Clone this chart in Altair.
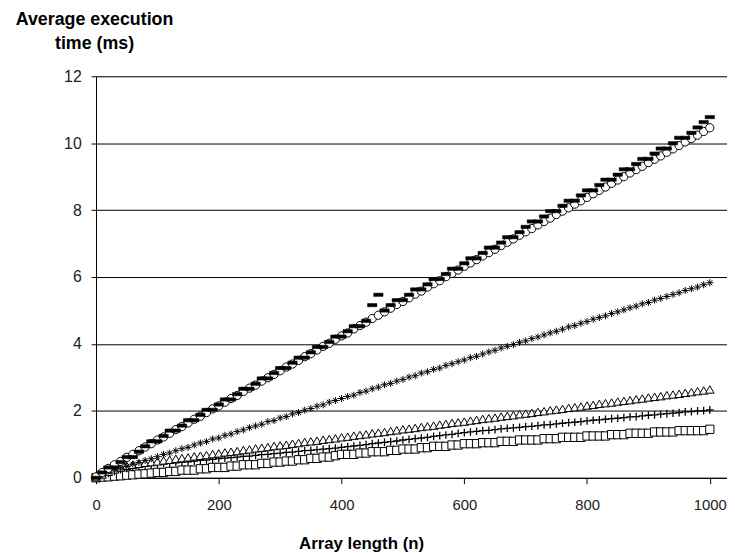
import altair as alt
import pandas as pd

x_vals = list(range(0, 1010, 10))

dash_vals = [0.00,0.16,0.31,0.31,0.47,0.62,0.62,0.78,0.94,1.09,
1.09,1.25,1.41,1.41,1.56,1.72,1.72,1.88,2.03,2.03,
2.19,2.34,2.34,2.50,2.66,2.66,2.81,2.97,2.97,3.13,
3.28,3.28,3.44,3.59,3.59,3.75,3.91,3.91,4.06,4.22,
4.22,4.38,4.53,4.53,4.69,5.16,5.47,5.00,5.16,5.31,
5.31,5.47,5.63,5.63,5.78,5.94,5.94,6.09,6.25,6.25,
6.41,6.56,6.56,6.72,6.88,6.88,7.03,7.19,7.19,7.34,
7.50,7.66,7.66,7.81,7.97,7.97,8.13,8.28,8.28,8.44,
8.59,8.59,8.75,8.91,8.91,9.06,9.22,9.22,9.38,9.53,
9.53,9.69,9.84,9.84,10.00,10.16,10.16,10.31,10.47,10.63,
10.78]

circle_vals = [0.03,0.16,0.28,0.39,0.49,0.61,0.70,0.81,0.92,1.02,
1.13,1.22,1.33,1.44,1.53,1.64,1.75,1.84,1.95,2.06,
2.15,2.26,2.37,2.46,2.58,2.68,2.77,2.89,2.99,3.09,
3.20,3.31,3.40,3.51,3.62,3.71,3.82,3.93,4.02,4.14,
4.24,4.33,4.45,4.55,4.65,4.76,4.86,4.96,5.07,5.18,
5.27,5.38,5.49,5.58,5.70,5.80,5.89,6.01,6.11,6.21,
6.32,6.42,6.52,6.63,6.73,6.83,6.94,7.04,7.14,7.25,
7.35,7.45,7.56,7.66,7.76,7.87,7.97,8.07,8.18,8.28,
8.38,8.49,8.59,8.69,8.80,8.90,9.00,9.11,9.21,9.31,
9.42,9.52,9.62,9.73,9.83,9.93,10.04,10.14,10.24,10.35,
10.46]

star_vals = [0.02,0.10,0.17,0.23,0.29,0.34,0.41,0.46,0.52,0.57,
0.63,0.70,0.74,0.81,0.87,0.91,0.98,1.04,1.08,1.16,
1.19,1.27,1.31,1.38,1.43,1.50,1.55,1.60,1.68,1.71,
1.79,1.83,1.91,1.95,2.02,2.07,2.14,2.18,2.26,2.31,
2.37,2.43,2.47,2.55,2.59,2.66,2.71,2.78,2.82,2.89,
2.94,3.01,3.05,3.13,3.17,3.24,3.28,3.36,3.41,3.47,
3.52,3.59,3.63,3.70,3.76,3.81,3.88,3.93,3.98,4.05,
4.09,4.16,4.21,4.27,4.33,4.38,4.44,4.51,4.55,4.62,
4.67,4.74,4.79,4.84,4.91,4.96,5.02,5.08,5.13,5.20,
5.24,5.31,5.36,5.42,5.48,5.53,5.60,5.65,5.70,5.77,
5.83]

triangle_vals = [0.02,0.10,0.18,0.25,0.31,0.36,0.39,0.42,0.45,0.47,
0.49,0.52,0.54,0.57,0.59,0.61,0.64,0.66,0.68,0.71,
0.73,0.76,0.78,0.80,0.83,0.85,0.88,0.90,0.92,0.95,
0.97,0.99,1.02,1.04,1.07,1.09,1.11,1.14,1.16,1.18,
1.21,1.23,1.26,1.28,1.30,1.33,1.35,1.37,1.40,1.42,
1.45,1.47,1.49,1.52,1.54,1.56,1.59,1.61,1.64,1.66,
1.68,1.71,1.73,1.76,1.78,1.80,1.83,1.85,1.87,1.90,
1.92,1.94,1.97,1.99,2.02,2.04,2.06,2.09,2.11,2.13,
2.16,2.18,2.21,2.23,2.25,2.28,2.30,2.32,2.35,2.37,
2.40,2.42,2.44,2.47,2.49,2.51,2.54,2.56,2.59,2.61,
2.64]

plus_vals = [0.01,0.07,0.13,0.19,0.24,0.28,0.31,0.34,0.36,0.38,
0.40,0.42,0.43,0.45,0.47,0.48,0.50,0.52,0.53,0.55,
0.57,0.59,0.60,0.62,0.64,0.65,0.67,0.69,0.70,0.72,
0.74,0.76,0.77,0.79,0.81,0.82,0.84,0.86,0.87,0.89,
0.91,0.93,0.95,0.97,0.99,1.02,1.04,1.06,1.08,1.10,
1.13,1.15,1.17,1.19,1.21,1.24,1.26,1.28,1.30,1.33,
1.35,1.37,1.39,1.41,1.42,1.44,1.46,1.48,1.49,1.51,
1.53,1.54,1.56,1.58,1.59,1.61,1.63,1.65,1.66,1.68,
1.70,1.72,1.73,1.75,1.77,1.78,1.80,1.82,1.83,1.85,
1.87,1.88,1.90,1.92,1.93,1.95,1.97,1.98,2.00,2.01,
2.03]

square_vals = [0.00,0.02,0.03,0.05,0.06,0.08,0.09,0.11,0.12,0.14,
0.16,0.16,0.19,0.19,0.23,0.23,0.23,0.27,0.27,0.31,
0.31,0.31,0.35,0.35,0.39,0.39,0.39,0.43,0.43,0.47,
0.47,0.50,0.50,0.54,0.54,0.58,0.58,0.62,0.62,0.66,
0.70,0.70,0.70,0.74,0.74,0.78,0.78,0.78,0.82,0.82,
0.86,0.86,0.86,0.90,0.90,0.94,0.94,0.94,0.98,0.98,
1.02,1.02,1.02,1.05,1.05,1.05,1.09,1.09,1.09,1.13,
1.13,1.13,1.13,1.17,1.17,1.17,1.21,1.21,1.21,1.21,
1.25,1.25,1.25,1.25,1.29,1.29,1.29,1.33,1.33,1.33,
1.33,1.37,1.37,1.37,1.37,1.41,1.41,1.41,1.41,1.41,
1.45]

series = {
    "dash": dash_vals,
    "circle": circle_vals,
    "star": star_vals,
    "triangle": triangle_vals,
    "plus": plus_vals,
    "square": square_vals,
}

rows = []
for name, vals in series.items():
    for xv, yv in zip(x_vals, vals):
        rows.append({"n": xv, "t": yv, "series": name})
df = pd.DataFrame(rows)

FONT = "Liberation Sans"

x_enc = alt.X("n:Q",
    scale=alt.Scale(domain=[0, 1028], nice=False, zero=False),
    axis=alt.Axis(values=[0, 200, 400, 600, 800, 1000], grid=False, format="d",
                  title="Array length (n)", titleAlign="center", titleX=268, titleY=71,
                  titleBaseline="alphabetic", titleFontSize=17, titleFontWeight="bold",
                  titleFont=FONT, titleColor="#000",
                  labelFontSize=15, labelFont=FONT, labelColor="#222",
                  tickSize=6, labelPadding=14, domainColor="#000", tickColor="#000",
                  labelFlush=False))
y_enc = alt.Y("t:Q",
    scale=alt.Scale(domain=[0, 12], nice=False),
    axis=alt.Axis(values=[0, 2, 4, 6, 8, 10, 12], grid=True, gridColor="#000",
                  gridOpacity=1,
                  title=["Average execution", "time (ms)"], titleAngle=0,
                  titleAlign="center", titleX=-2, titleY=-52, titleBaseline="alphabetic",
                  titleLineHeight=24, titleFontSize=18, titleFontWeight="bold",
                  titleFont=FONT, titleColor="#000",
                  labelFontSize=16, labelFont=FONT, labelColor="#222",
                  tickSize=5, labelPadding=10, domainColor="#000", tickColor="#000"))

base = alt.Chart(df)

def layer(name, shape, size, fill, stroke, sw):
    return base.transform_filter(alt.datum.series == name).mark_point(
        shape=shape, size=size, filled=False, fill=fill, stroke=stroke,
        strokeWidth=sw, opacity=1
    ).encode(x=x_enc, y=y_enc)

square = layer("square", "square", 70, "white", "black", 1)
plus = layer("plus", "M-1,0L1,0M0,-1L0,1", 60, "none", "black", 1.3)
tri = layer("triangle", "triangle-up", 75, "white", "black", 1)
star = layer("star", "M-1,0L1,0M0,-1L0,1M-0.7,-0.7L0.7,0.7M-0.7,0.7L0.7,-0.7", 50, "none", "black", 1)
circ = layer("circle", "circle", 70, "white", "black", 1)
dash = layer("dash", "M-1,-0.35L1,-0.35L1,0.35L-1,0.35Z", 90, "black", "black", 0.5)

chart = alt.layer(square, plus, tri, star, circ, dash).properties(
    width=638, height=406,
    autosize=alt.AutoSizeParams(type="none"),
    padding={"left": 89, "top": 66, "right": 0, "bottom": 73},
).configure_view(stroke=None).configure(background="white")

chart.save("out.html", embed_options={"renderer": "svg", "actions": False})
